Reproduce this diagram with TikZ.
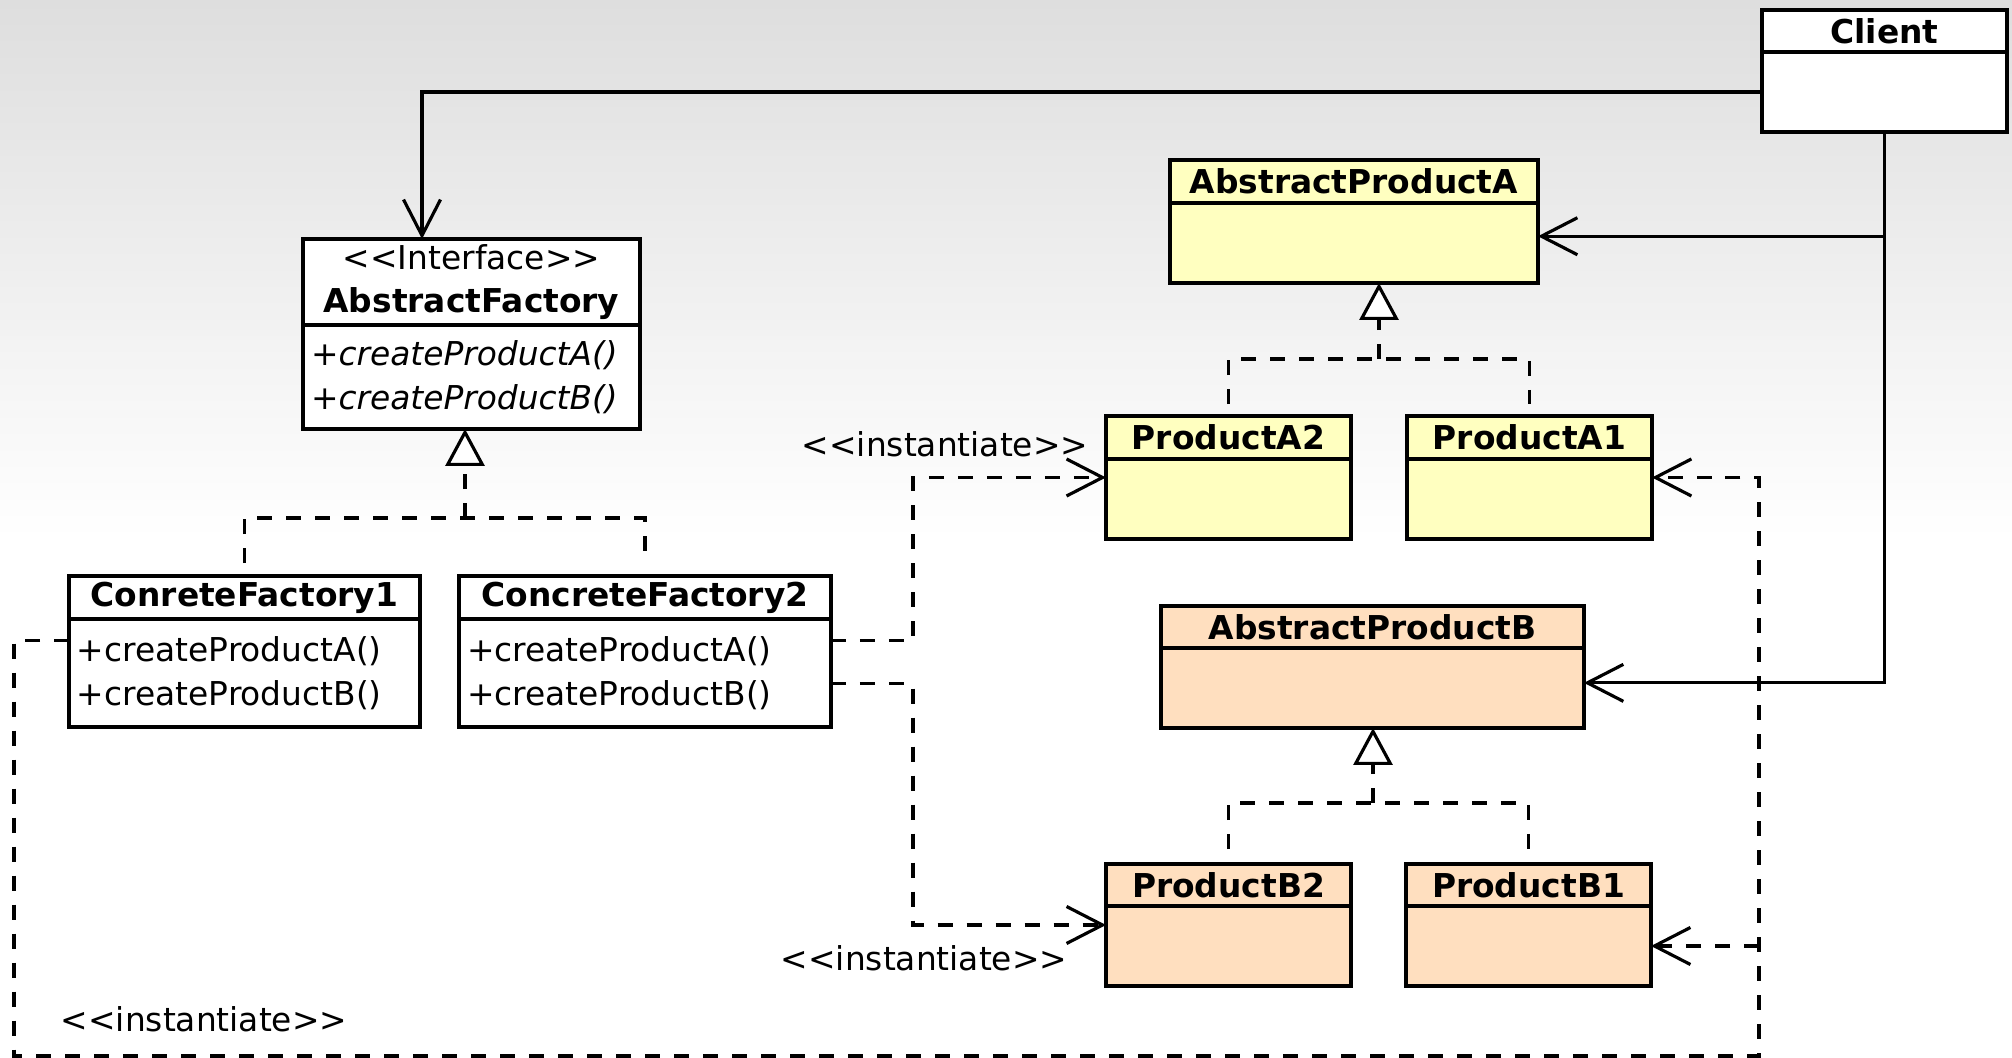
\documentclass[tikz,border=0pt]{standalone}
\usepackage{fontspec}
\setmainfont{DejaVu Sans}[Ligatures=TeXOff]
\usepackage{xcolor}
\usepackage{tikz}
\usetikzlibrary{
  arrows.meta,
  positioning,
  calc
}
\definecolor{prodAfill}{HTML}{FFFFC0}
\definecolor{prodBfill}{HTML}{FFDFBF}
\definecolor{bgtop}{HTML}{DEDEDE}

\begin{document}
\fontsize{18.7}{24.8}\selectfont
\begin{tikzpicture}[
  x=0.02cm, y=-0.02cm,
  hdr/.style={draw, line width=1.9pt, outer sep=0pt, inner sep=0pt, anchor=north west,
    minimum height=0.86cm, font=\bfseries, align=center},
  bdy/.style={draw, line width=1.9pt, outer sep=0pt, inner xsep=0.16cm, inner ysep=0pt,
    minimum height=1.6cm, align=left},
  assoc/.style={line width=1.8pt, -{Straight Barb[length=0.72cm, width=0.74cm]}},
  dashline/.style={line width=1.8pt, dash pattern=on 0.3cm off 0.28cm},
  realize/.style={dashline, -{Triangle[open, fill=white, length=0.74cm, width=0.78cm]}},
  dep/.style={dashline, -{Straight Barb[length=0.72cm, width=0.74cm]}},
  lbl/.style={inner sep=0pt},
]
  % Background
  \useasboundingbox (0,0) rectangle (2012,1058);
  \fill[white] (0,0) rectangle (2012,1058);
  \shade[top color=bgtop, bottom color=white] (0,0) rectangle (2012,540);

  % Client
  \node[hdr, fill=white, minimum width=4.9cm, minimum height=0.84cm] (clh) at (1762,10) {Client};
  \node[bdy, fill=white, minimum width=4.9cm, below=0pt of clh] (clb) {};

  % Factories
  \node[hdr, fill=white, minimum width=6.74cm, minimum height=1.72cm] (afh) at (303,239)
    {{\mdseries <<Interface>>}\\AbstractFactory};
  \node[bdy, fill=white, text width=6.42cm, minimum height=2.08cm, below=0pt of afh] (afb)
    {+\textit{createProductA()}\\+\textit{createProductB()}};
  \node[hdr, fill=white, minimum width=7.02cm] (cf1h) at (69,576) {ConreteFactory1};
  \node[bdy, fill=white, text width=6.7cm, minimum height=2.16cm, below=0pt of cf1h] (cf1b)
    {+createProductA()\\+createProductB()};
  \node[hdr, fill=white, minimum width=7.44cm] (cf2h) at (459,576) {ConcreteFactory2};
  \node[bdy, fill=white, text width=7.12cm, minimum height=2.16cm, below=0pt of cf2h] (cf2b)
    {+createProductA()\\+createProductB()};

  % Products A
  \node[hdr, fill=prodAfill, minimum width=7.36cm] (apah) at (1170,160) {AbstractProductA};
  \node[bdy, fill=prodAfill, minimum width=7.36cm, below=0pt of apah] (apab) {};
  \node[hdr, fill=prodAfill, minimum width=4.9cm] (pa2h) at (1106,416) {ProductA2};
  \node[bdy, fill=prodAfill, minimum width=4.9cm, below=0pt of pa2h] (pa2b) {};
  \node[hdr, fill=prodAfill, minimum width=4.9cm] (pa1h) at (1407,416) {ProductA1};
  \node[bdy, fill=prodAfill, minimum width=4.9cm, below=0pt of pa1h] (pa1b) {};

  % Products B
  \node[hdr, fill=prodBfill, minimum width=8.46cm, minimum height=0.84cm] (apbh) at (1161,606) {AbstractProductB};
  \node[bdy, fill=prodBfill, minimum width=8.46cm, below=0pt of apbh] (apbb) {};
  \node[hdr, fill=prodBfill, minimum width=4.9cm, minimum height=0.84cm] (pb2h) at (1106,864) {ProductB2};
  \node[bdy, fill=prodBfill, minimum width=4.9cm, below=0pt of pb2h] (pb2b) {};
  \node[hdr, fill=prodBfill, minimum width=4.9cm, minimum height=0.84cm] (pb1h) at (1406,864) {ProductB1};
  \node[bdy, fill=prodBfill, minimum width=4.9cm, below=0pt of pb1h] (pb1b) {};

  % Client associations
  \coordinate (afin) at (422,239);
  \coordinate (apain) at ($(apah.north east)!.62!(apab.south east)$);
  \coordinate (apbin) at ($(apbh.north east)!.63!(apbb.south east)$);
  \draw[assoc] (clb.west) -| (afin);
  \draw[assoc] (clb.south) |- (apbin);
  \draw[assoc] (clb.south |- apain) -- (apain);

  % Realizations
  \coordinate (afjoin) at (465,518);
  \draw[dashline] ($(cf1h.north)+(0,-13)$) |- (afjoin) -| ($(cf2h.north)+(0,-13)$);
  \draw[realize] (afjoin) -- (afjoin |- afb.south);
  \coordinate (pajoin) at (1379,359);
  \draw[dashline] ($(pa2h.north)+(0,-12)$) |- (pajoin) -| ($(pa1h.north)+(0,-12)$);
  \draw[realize] (pajoin) -- (pajoin |- apab.south);
  \coordinate (pbjoin) at (1373,803);
  \draw[dashline] ($(pb2h.north)+(0,-15)$) |- (pbjoin) -| ($(pb1h.north)+(0,-15)$);
  \draw[realize] (pbjoin) -- (pbjoin |- apbb.south);

  % Instantiations
  \coordinate (cf2outA) at ($(cf2b.north east)!.2!(cf2b.south east)$);
  \coordinate (cf2outB) at ($(cf2b.north east)!.6!(cf2b.south east)$);
  \coordinate (pa2in) at ($(pa2h.north west)!.5!(pa2b.south west)$);
  \coordinate (pb2in) at ($(pb2h.north west)!.5!(pb2b.south west)$);
  \coordinate (fork) at (913,0);
  \draw[dep] (cf2outA) -| (fork |- pa2in) -- (pa2in);
  \draw[dep] (cf2outB) -| (fork |- pb2in) -- (pb2in);

  \coordinate (cf1out) at ($(cf1b.north west)!.2!(cf1b.south west)$);
  \coordinate (pa1in) at ($(pa1h.north east)!.5!(pa1b.south east)$);
  \coordinate (loopL) at (14,1056);
  \coordinate (loopR) at (1759,1056);
  \draw[dep] (cf1out) -| (loopL) -- (loopR) |- (pa1in);
  \draw[dep] (loopR |- pb1b.east) -- (pb1b.east);

  % Labels
  \node[lbl] (instA) at (945,444) {<<instantiate>>};
  \node[lbl] (instB) at (924,958) {<<instantiate>>};
  \node[lbl] (instC) at (204,1019) {<<instantiate>>};
\end{tikzpicture}
\end{document}
